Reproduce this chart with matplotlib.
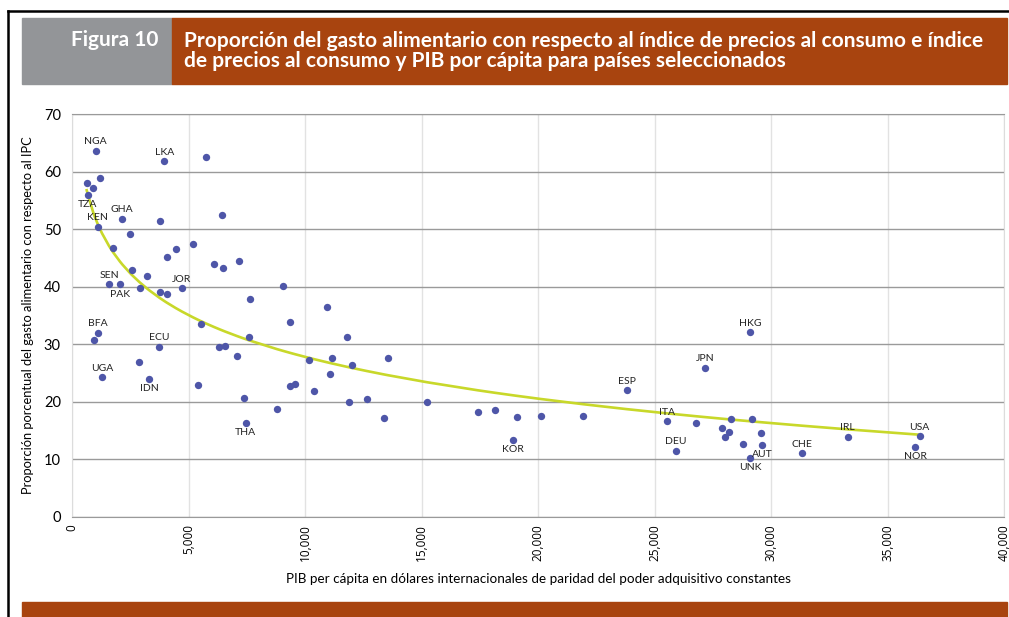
import matplotlib.pyplot as plt
import numpy as np
from matplotlib.patches import Rectangle
from matplotlib.lines import Line2D
from matplotlib.ticker import FuncFormatter

plt.rcParams["font.family"] = ["Lato", "DejaVu Sans"]

# PIB per cápita (USD PPA) y proporción del gasto alimentario (%)
gdp = [
    1017, 3961, 5751, 631, 1202, 914, 674, 2159, 1103, 3790, 6425, 2489, 1773,
    4451, 4064, 5180, 2588, 3232, 1588, 2060, 2931, 3777, 4077, 4721, 7652,
    6094, 6468, 7180, 9043, 10931, 11803, 1116, 944, 3747, 2889, 1288, 3318,
    5536, 5421, 7610, 9343, 6322, 6580, 7069, 7369, 7455, 8785, 9356, 9584,
    10180, 11172, 13549, 12004, 11073, 10399, 11888, 12648, 13378, 15249,
    17412, 18167, 19085, 18940, 20129, 21946, 23807, 27167, 25523, 25910,
    26794, 29112, 28270, 29185, 27897, 28210, 28012, 29558, 28798, 29627,
    29112, 31318, 33292, 36382, 36193,
]
share = [
    63.6, 61.8, 62.6, 58.1, 58.9, 57.1, 55.9, 51.8, 50.4, 51.5, 52.4, 49.1, 46.8,
    46.6, 45.2, 47.5, 42.9, 41.9, 40.4, 40.4, 39.8, 39.0, 38.8, 39.7, 37.9,
    44.0, 43.3, 44.4, 40.2, 36.5, 31.3, 32.0, 30.8, 29.6, 27.0, 24.3, 24.0,
    33.6, 22.9, 31.3, 33.8, 29.5, 29.7, 28.0, 20.6, 16.3, 18.7, 22.8, 23.1,
    27.3, 27.7, 27.7, 26.4, 24.8, 21.9, 20.0, 20.5, 17.2, 20.0,
    18.3, 18.5, 17.3, 13.4, 17.5, 17.5, 22.0, 25.9, 16.6, 11.5,
    16.4, 32.1, 17.0, 17.1, 15.5, 14.7, 13.9, 14.6, 12.6, 12.5,
    10.3, 11.1, 13.9, 14.0, 12.2,
]
codes = {
    0: "NGA", 1: "LKA", 6: "TZA", 7: "GHA", 8: "KEN", 18: "SEN", 19: "PAK",
    23: "JOR", 31: "BFA", 33: "ECU", 35: "UGA", 36: "IDN", 45: "THA",
    62: "KOR", 65: "ESP", 66: "JPN", 67: "ITA", 68: "DEU", 70: "HKG",
    78: "AUT", 79: "UNK", 80: "CHE", 81: "IRL", 82: "USA", 83: "NOR",
}
below = {"TZA", "PAK", "IDN", "THA", "KOR", "NOR", "UNK", "AUT"}

W, H = 1009, 617
fig = plt.figure(figsize=(W / 100, H / 100), dpi=100)


def fx(px):
    return px / W


def fy(py):
    return 1 - py / H


# frame and header
fig.add_artist(Line2D([fx(8), fx(8)], [fy(11), 0], color="black", lw=1.8))
fig.add_artist(Line2D([fx(8), 1], [fy(11), fy(11)], color="black", lw=1.8))
fig.add_artist(Rectangle((fx(22), fy(84)), fx(150), fy(18) - fy(84), color="#939598"))
fig.add_artist(Rectangle((fx(172), fy(84)), fx(835), fy(18) - fy(84), color="#a8440f"))
fig.add_artist(Rectangle((fx(22), 0), fx(985), fy(602), color="#a8440f"))
fig.text(fx(158), fy(40), "Figura 10", color="white", fontsize=15,
         fontweight="bold", ha="right", va="center")
fig.text(fx(184), fy(51),
         "Proporción del gasto alimentario con respecto al índice de precios al consumo e índice\n"
         "de precios al consumo y PIB por cápita para países seleccionados",
         color="white", fontsize=15, fontweight="bold", ha="left", va="center",
         linespacing=1.05)

ax = fig.add_axes([fx(72), fy(517), fx(1004 - 72), fy(114) - fy(517)])
ax.set_xlim(0, 40000)
ax.set_ylim(0, 70)
ax.set_xticks(np.arange(0, 40001, 5000))
ax.set_yticks(np.arange(0, 71, 10))
ax.xaxis.set_major_formatter(FuncFormatter(lambda v, _: f"{v:,.0f}"))
ax.grid(axis="y", color="#9a9a9a", lw=1.0)
ax.grid(axis="x", color="#e2e2e2", lw=1.0)
ax.set_axisbelow(True)
for side in ("top", "bottom"):
    ax.spines[side].set_color("#9a9a9a")
for side in ("left", "right"):
    ax.spines[side].set_color("#dcdcdc")
ax.tick_params(length=0)
ax.tick_params(axis="y", pad=8, labelsize=10.5)
ax.tick_params(axis="x", pad=5, labelsize=8.5, labelrotation=90)
for lab in ax.get_xticklabels():
    lab.set_family(["Open Sans", "DejaVu Sans"])

x = np.array(gdp, float)
y = np.array(share, float)
coef = np.polyfit(np.log(x), y, 1)
xs = np.sort(x)
ax.plot(xs, np.polyval(coef, np.log(xs)), color="#c8d82a", lw=1.9, zorder=2)
ax.scatter(x, y, s=28, color="#4e56a8", zorder=3, linewidths=0)

for i, code in codes.items():
    dy = -7 if code in below else 6.5
    ax.annotate(code, (x[i], y[i]), xytext=(0, dy), textcoords="offset points",
                ha="center", va="center", fontsize=7.5, color="#222222")

ax.set_ylabel("Proporción porcentual del gasto alimentario con respecto al IPC",
              fontsize=9.3, labelpad=7)
ax.set_xlabel("PIB per cápita en dólares internacionales de paridad del poder adquisitivo constantes",
              fontsize=9.7, labelpad=9)

fig.savefig("out.png", dpi=100)
